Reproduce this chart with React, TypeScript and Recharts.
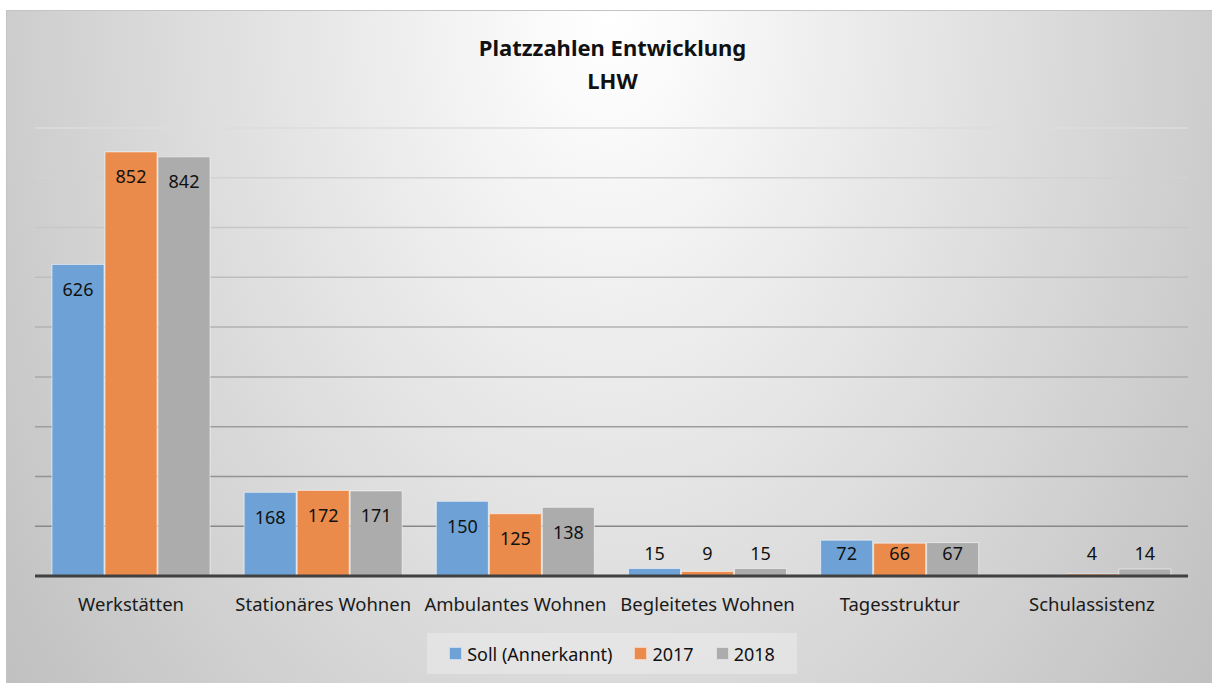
import React from 'react';
import { BarChart, Bar, XAxis, YAxis, CartesianGrid, LabelList } from 'recharts';

const categories = ['Werkstätten', 'Stationäres Wohnen', 'Ambulantes Wohnen', 'Begleitetes Wohnen', 'Tagesstruktur', 'Schulassistenz'];
const soll: (number | null)[] = [626, 168, 150, 15, 72, null];
const y2017: (number | null)[] = [852, 172, 125, 9, 66, 4];
const y2018: (number | null)[] = [842, 171, 138, 15, 67, 14];
const yTicks = [0, 100, 200, 300, 400, 500, 600, 700, 800, 900];

const seriesNames = ['Soll (Annerkannt)', '2017', '2018'];
const seriesKeys = ['soll', 'y2017', 'y2018'];
const seriesColors = ['#6ea2d6', '#eb8b4b', '#acacac'];

const data = categories.map((c, i) => ({ name: c, soll: soll[i], y2017: y2017[i], y2018: y2018[i] }));

const FONT = '"Noto Sans", sans-serif';

const renderLabel = (props: any) => {
  const { x, y, width, height, value } = props;
  if (value === null || value === undefined) return null;
  const base = y + height;
  const cy = Math.min(y + 25, base - 23);
  return (
    <text x={x + width / 2} y={cy} dy={6.5} textAnchor="middle" fontFamily={FONT} fontSize={18} fill="#111">
      {value}
    </text>
  );
};

const CatTick = (props: any) => {
  const { x, y, payload } = props;
  return (
    <text x={x} y={y} dy={27} textAnchor="middle" fontFamily={FONT} fontSize={18.5} fill="#1a1a1a">
      {payload.value}
    </text>
  );
};

const GridLine = (props: any) => {
  const { x1, x2, y1, y2 } = props;
  const t = Math.max(0, Math.min(1, (y1 - 128) / 400));
  const v = Math.round(0xdc - (0xdc - 0x88) * t);
  const h = v.toString(16).padStart(2, '0');
  return <line x1={x1} x2={x2} y1={y1} y2={y2} stroke={`#${h}${h}${h}`} strokeWidth={1.5} />;
};

export default function App() {
  return (
    <div style={{ position: 'fixed', left: 0, top: 0, width: 1213, height: 684, background: '#ffffff', overflow: 'hidden' }}>
      <div
        style={{
          position: 'absolute',
          left: 6,
          top: 10,
          width: 1206,
          height: 673,
          boxSizing: 'border-box',
          borderLeft: '1.5px solid #c4c4c4',
          borderTop: '1.5px solid #c4c4c4',
          background: 'radial-gradient(ellipse 780px 1150px at 50% 0%, #ffffff 0%, #fbfbfb 8%, #bebebe 100%)',
        }}
      />
      <div style={{ position: 'absolute', left: 0, top: 31, width: 1225, textAlign: 'center', fontFamily: FONT, fontWeight: 700, fontSize: 22, lineHeight: '33px', color: '#111' }}>
        Platzzahlen Entwicklung
        <br />
        LHW
      </div>
      <div style={{ position: 'absolute', left: 0, top: 0 }}>
        <BarChart
          width={1213}
          height={684}
          data={data}
          margin={{ top: 128, right: 25, bottom: 78, left: 35 }}
          barCategoryGap={17}
          barGap={1}
        >
          <CartesianGrid vertical={false} horizontal={GridLine as any} />
          <YAxis hide domain={[0, 900]} ticks={yTicks} type="number" />
          <XAxis
            dataKey="name"
            height={30}
            axisLine={{ stroke: '#404040', strokeWidth: 3 }}
            tickLine={false}
            tick={CatTick as any}
            interval={0}
          />
          {seriesKeys.map((k, i) => (
            <Bar key={k} dataKey={k} name={seriesNames[i]} fill={seriesColors[i]} stroke="rgba(255,255,255,0.55)" strokeWidth={1} isAnimationActive={false}>
              <LabelList dataKey={k} content={renderLabel as any} />
            </Bar>
          ))}
        </BarChart>
      </div>
      <div
        style={{
          position: 'absolute',
          left: 427,
          top: 633,
          width: 370,
          height: 41,
          background: 'rgba(255,255,255,0.28)',
          display: 'flex',
          alignItems: 'center',
          justifyContent: 'center',
          fontFamily: FONT,
          fontSize: 18,
          color: '#111',
        }}
      >
        {seriesNames.map((n, i) => (
          <div key={n} style={{ display: 'flex', alignItems: 'center', marginLeft: i === 0 ? 0 : 22 }}>
            <span style={{ display: 'inline-block', width: 11, height: 11, background: seriesColors[i], border: '0.5px solid rgba(255,255,255,0.6)', marginRight: 5 }} />
            <span>{n}</span>
          </div>
        ))}
      </div>
    </div>
  );
}
